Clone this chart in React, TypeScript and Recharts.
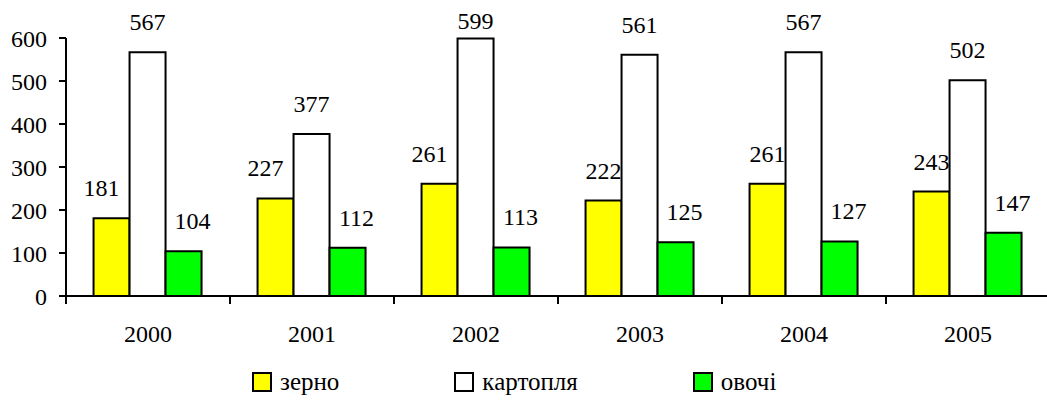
import { BarChart, Bar, XAxis, YAxis, Legend, LabelList } from 'recharts'

const YEARS = ['2000', '2001', '2002', '2003', '2004', '2005']
const GRAIN = [181, 227, 261, 222, 261, 243]
const POTATO = [567, 377, 599, 561, 567, 502]
const VEG = [104, 112, 113, 125, 127, 147]
const Y_TICKS = [0, 100, 200, 300, 400, 500, 600]

const FONT = "'Liberation Serif', Tinos, 'Times New Roman', 'DejaVu Serif', 'Noto Serif', serif"
const W = 1047
const H = 403
const MARGIN = { top: 38, right: -3, bottom: 6, left: 0 }
const Y_AXIS_W = 66
const STEP = (W - Y_AXIS_W - MARGIN.left - MARGIN.right) / YEARS.length

const SERIES = [
  { key: 'grain', name: 'зерно', color: '#ffff00', labelDx: (i: number) => (i < 3 ? -10 : 0) },
  { key: 'potato', name: 'картопля', color: '#ffffff', labelDx: () => 0 },
  { key: 'veg', name: 'овочі', color: '#00ff00', labelDx: () => 9 },
]

const data = YEARS.map((year, i) => ({ year, grain: GRAIN[i], potato: POTATO[i], veg: VEG[i] }))

function YearTick(props: any) {
  const { x, y, payload, index } = props
  const half = STEP / 2
  return (
    <g>
      <line x1={x - half} x2={x - half} y1={y - 10} y2={y - 2} stroke="#000" strokeWidth={2} />
      {index === YEARS.length - 1 && (
        <line x1={x + half} x2={x + half} y1={y - 10} y2={y - 2} stroke="#000" strokeWidth={2} />
      )}
      <text x={x} y={y + 36} textAnchor="middle" fill="#000" style={{ fontFamily: FONT, fontSize: 24 }}>
        {payload.value}
      </text>
    </g>
  )
}

// value labels sit ~30px above the bar, but never above the top of the chart
const makeLabel = (dxFor: (i: number) => number) => (props: any) => {
  const { x, y, width, value, index } = props
  const cy = Math.max(Number(y) - 30, 21)
  return (
    <text
      x={Number(x) + Number(width) / 2 + dxFor(index)}
      y={cy}
      dominantBaseline="central"
      textAnchor="middle"
      fill="#000"
      style={{ fontFamily: FONT, fontSize: 24 }}
    >
      {value}
    </text>
  )
}

function LegendBox() {
  return (
    <div
      style={{
        display: 'flex',
        alignItems: 'center',
        height: 30,
        paddingLeft: 252,
        gap: 115,
        fontSize: 25,
        fontFamily: FONT,
        color: '#000',
      }}
    >
      {SERIES.map((s) => (
        <div key={s.key} style={{ display: 'flex', alignItems: 'center' }}>
          <span
            style={{
              display: 'inline-block',
              width: 16,
              height: 16,
              border: '2px solid #000',
              background: s.color,
              marginRight: 8,
            }}
          />
          {s.name}
        </div>
      ))}
    </div>
  )
}

export default function App() {
  return (
    <div style={{ position: 'absolute', left: 0, top: 0, width: W, height: H, background: '#fff', fontFamily: FONT }}>
      <BarChart width={W} height={H} data={data} margin={MARGIN} barCategoryGap="16.8%" barGap={0} style={{ fontFamily: FONT }}>
        <XAxis
          dataKey="year"
          height={71}
          tickSize={8}
          tickMargin={2}
          tickLine={false}
          axisLine={{ stroke: '#000', strokeWidth: 2 }}
          tick={<YearTick />}
          interval={0}
        />
        <YAxis
          width={Y_AXIS_W}
          domain={[0, 600]}
          ticks={Y_TICKS}
          interval={0}
          tickSize={7}
          tickMargin={12}
          axisLine={{ stroke: '#000', strokeWidth: 2 }}
          tickLine={{ stroke: '#000', strokeWidth: 2 }}
          tick={{ fill: '#000', fontSize: 24, style: { fontFamily: FONT } }}
        />
        <Legend verticalAlign="bottom" content={<LegendBox />} />
        {SERIES.map((s) => (
          <Bar
            key={s.key}
            dataKey={s.key}
            name={s.name}
            fill={s.color}
            stroke="#000"
            strokeWidth={2}
            isAnimationActive={false}
          >
            <LabelList dataKey={s.key} content={makeLabel(s.labelDx)} />
          </Bar>
        ))}
      </BarChart>
    </div>
  )
}
